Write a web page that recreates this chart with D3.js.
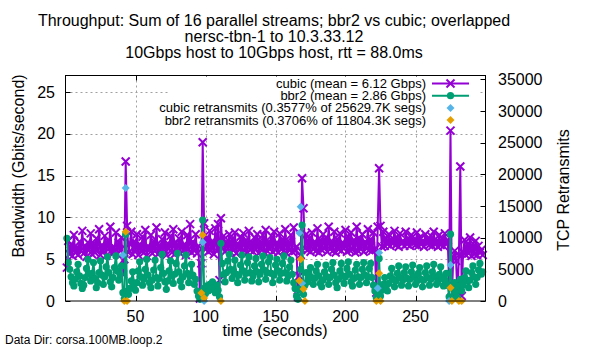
<!DOCTYPE html>
<html>
<head>
<meta charset="utf-8">
<style>
    body { margin: 0; background: #fff; }
    svg { display: block; font-family: 'Liberation Sans', Arial, sans-serif; }
</style>
</head>
<body>
<svg width="600" height="350"></svg>

<script src="https://d3js.org/d3.v7.min.js"></script>
<script>

    // throughput, Gbps, one sample per second starting at t = 1
    let cubicGbps = [
        4.0, 7.2, 5.6, 6.8, 5.4, 7.9, 5.8, 6.4, 5.5, 7.1,
        6.0, 8.4, 5.7, 6.6, 5.3, 7.0, 6.2, 8.1, 5.6, 6.9,
        5.8, 7.5, 6.1, 8.6, 5.5, 6.7, 6.0, 7.8, 5.4, 7.2,
        6.3, 8.9, 5.7, 6.5, 5.9, 8.2, 5.6, 7.0, 6.1, 7.6,
        3.2, 5.0, 16.7, 9.0, 5.8, 6.9, 8.3, 5.6, 7.1, 6.2,
        8.0, 5.5, 6.8, 6.0, 7.7, 5.8, 8.5, 5.4, 6.6, 6.1,
        7.9, 5.7, 7.2, 6.0, 8.8, 5.6, 6.7, 5.9, 7.4, 6.2,
        8.2, 5.5, 6.9, 6.3, 7.8, 5.8, 8.6, 5.6, 7.0, 6.0,
        7.5, 5.7, 8.3, 6.1, 6.8, 5.5, 7.9, 6.2, 9.2, 5.8,
        7.1, 6.0, 8.0, 5.7, 6.6, 0.3, 4.5, 19.0, 9.3, 6.2,
        7.6, 5.9, 8.4, 6.1, 7.2, 5.6, 8.7, 6.0, 9.2, 2.5,
        9.9, 6.4, 7.8, 5.9, 7.1, 6.3, 8.0, 5.8, 7.4, 6.1,
        8.2, 5.7, 6.9, 6.2, 7.7, 5.9, 8.1, 6.0, 7.3, 5.8,
        8.4, 6.1, 7.0, 5.9, 7.6, 6.2, 8.0, 5.7, 7.2, 6.3,
        7.9, 5.8, 8.5, 6.0, 7.1, 6.2, 7.8, 5.9, 8.3, 6.1,
        7.0, 5.8, 8.1, 6.2, 7.4, 6.0, 8.6, 5.7, 7.2, 6.1,
        7.9, 5.9, 8.8, 6.0, 6.5, 0.5, 3.0, 5.5, 14.7, 11.1,
        6.3, 8.0, 6.1, 7.5, 5.9, 8.2, 6.2, 7.1, 6.0, 8.7,
        5.8, 7.3, 6.1, 8.0, 6.3, 7.6, 5.9, 8.9, 6.2, 7.2,
        6.0, 8.3, 5.8, 7.4, 6.2, 8.1, 6.0, 7.0, 6.3, 8.5,
        5.9, 7.7, 6.1, 8.2, 6.2, 7.3, 5.8, 8.9, 6.0, 7.5,
        6.2, 8.0, 5.9, 7.1, 6.3, 8.6, 6.1, 7.4, 6.0, 8.2,
        6.2, 1.0, 8.9, 15.9, 9.0, 6.5, 8.3, 6.6, 7.5, 6.8,
        8.0, 6.6, 7.3, 6.9, 8.4, 6.7, 7.6, 6.5, 8.1, 6.9,
        7.2, 6.6, 8.3, 6.8, 7.5, 6.6, 7.9, 6.9, 7.3, 6.7,
        8.2, 6.6, 7.6, 6.8, 7.1, 6.5, 8.0, 6.9, 7.4, 6.7,
        7.8, 6.6, 8.3, 6.8, 7.2, 6.5, 7.9, 6.7, 7.5, 6.6,
        8.1, 6.8, 7.3, 2.0, 20.4, 0.5, 5.2, 6.0, 4.8, 0.4,
        5.5, 16.1, 0.6, 5.8, 7.3, 5.5, 6.8, 5.7, 7.6, 5.4,
        6.9, 5.6, 7.2, 5.5, 6.6, 5.8, 6.1, 5.5
    ]

    let bbr2Gbps = [
        7.5, 4.6, 3.8, 2.9, 2.2, 1.8, 2.6, 3.5, 4.4, 3.0,
        2.1, 1.5, 1.9, 2.8, 3.9, 5.0, 3.2, 2.4, 3.3, 4.6,
        2.7, 1.6, 2.2, 3.4, 4.8, 3.1, 2.0, 2.9, 4.1, 5.3,
        3.4, 2.3, 1.7, 2.8, 4.0, 5.4, 3.6, 2.5, 3.2, 4.2,
        1.0, 0.3, 8.0, 1.2, 0.8, 1.5, 2.4, 3.5, 2.0, 1.3,
        2.2, 3.6, 4.7, 2.9, 1.9, 2.6, 3.8, 5.0, 3.1, 2.2,
        1.6, 2.5, 3.7, 4.9, 2.8, 1.8, 2.7, 4.0, 5.6, 3.3,
        2.3, 1.4, 2.4, 3.6, 4.8, 3.0, 2.1, 3.2, 4.5, 5.7,
        3.5, 2.4, 1.7, 2.9, 4.2, 5.5, 3.3, 2.2, 3.0, 4.4,
        3.1, 2.0, 2.6, 1.2, 0.6, 0.2, 1.1, 9.7, 1.5, 0.9,
        1.8, 1.2, 2.0, 1.4, 2.3, 1.6, 1.0, 1.9, 1.3, 0.5,
        6.9, 4.5, 3.2, 2.3, 3.4, 4.8, 5.6, 3.8, 2.7, 3.6,
        4.9, 3.2, 2.2, 3.1, 4.3, 5.5, 3.6, 2.5, 3.3, 4.6,
        5.3, 3.4, 2.4, 3.0, 4.2, 5.1, 3.5, 2.3, 3.2, 4.4,
        5.4, 3.7, 2.6, 3.4, 4.7, 5.2, 3.3, 2.2, 3.1, 4.3,
        5.0, 3.6, 2.5, 3.3, 4.5, 5.4, 3.4, 2.4, 3.0, 4.1,
        4.9, 3.2, 2.2, 1.5, 0.6, 0.2, 1.4, 3.8, 9.1, 0.8,
        1.9, 3.4, 2.3, 3.1, 4.0, 2.8, 2.0, 2.7, 3.6, 4.4,
        3.0, 2.1, 1.7, 2.5, 3.5, 4.3, 2.9, 2.0, 2.8, 3.8,
        4.6, 3.1, 2.2, 1.6, 2.6, 3.6, 4.5, 3.0, 2.1, 2.9,
        3.9, 4.7, 3.2, 2.3, 1.8, 2.7, 3.7, 4.4, 2.9, 2.0,
        2.8, 3.8, 4.6, 3.1, 2.2, 2.9, 3.9, 4.5, 2.8, 1.9,
        1.2, 0.4, 0.9, 5.1, 0.6, 1.3, 2.0, 2.8, 1.8, 1.2,
        2.1, 3.0, 3.9, 2.6, 1.7, 2.4, 3.3, 4.2, 2.8, 1.9,
        2.5, 3.4, 4.1, 2.7, 1.8, 2.6, 3.5, 4.3, 2.9, 2.0,
        2.4, 3.3, 4.0, 2.6, 1.7, 2.5, 3.4, 4.2, 2.8, 1.9,
        2.6, 3.5, 4.4, 2.9, 2.0, 2.3, 3.2, 4.1, 2.7, 1.8,
        2.5, 3.3, 1.9, 0.5, 8.0, 0.3, 1.5, 2.2, 1.0, 0.4,
        1.8, 2.6, 1.2, 1.9, 2.8, 3.6, 2.4, 1.6, 2.5, 3.4,
        4.2, 2.9, 2.0, 2.8, 3.7, 4.5, 3.2, 3.5
    ]

    // retransmits (right axis), only the seconds where they show up
    let cubicRetxSec = [41, 43, 98, 99, 167, 168, 169, 223, 224, 274, 275]
    let cubicRetx = [7260, 17840, 9270, 0, 10740, 14890, 2790, 2000, 7630, 0, 5680]

    let bbr2RetxSec = [42, 43, 44, 97, 98, 99, 111, 167, 168, 170, 171, 222, 224, 225, 275, 276, 281, 283]
    let bbr2Retx = [0, 10940, 0, 1260, 10420, 470, 0, 3200, 6590, 1890, 0, 0, 4370, 0, 2100, 0, 0, 0]

    let xTicks = [50, 100, 150, 200, 250]
    let yTicks = [0, 5, 10, 15, 20, 25]
    let y2Ticks = [0, 5000, 10000, 15000, 20000, 25000, 30000, 35000]

    let titleLines = [
        "Throughput: Sum of 16 parallel streams; bbr2 vs cubic; overlapped",
        "nersc-tbn-1 to 10.3.33.12",
        "10Gbps host to 10Gbps host, rtt = 88.0ms"
    ]
    let legendLabels = [
        "cubic (mean = 6.12 Gbps)",
        "bbr2 (mean = 2.86 Gbps)",
        "cubic retransmits (0.3577% of 25629.7K segs)",
        "bbr2 retransmits (0.3706% of 11804.3K segs)"
    ]

    let purple = "#9400d3", green = "#009e73", blue = "#56b4e9", orange = "#e69f00"

    let svg = d3.select("svg")
    let pLeft = 65.5, pRight = 485.5, pTop = 75.5, pBottom = 301

    let x = d3.scaleLinear().domain([0, 300]).range([pLeft, pRight])
    let y = d3.scaleLinear().domain([0, 27]).range([pBottom, pTop])
    let y2 = d3.scaleLinear().domain([0, 35630]).range([pBottom, pTop])

    let cubic = cubicGbps.map((v, i) => ({ t: i + 1, v: v }))
    let bbr2 = bbr2Gbps.map((v, i) => ({ t: i + 1, v: v }))
    let cubicR = cubicRetxSec.map((t, i) => ({ t: t, v: cubicRetx[i] }))
    let bbr2R = bbr2RetxSec.map((t, i) => ({ t: t, v: bbr2Retx[i] }))

    // grid
    svg.selectAll(".vgrid")
        .data(xTicks)
        .join("line")
        .attr("x1", d => Math.round(x(d)) + .5).attr("x2", d => Math.round(x(d)) + .5)
        .attr("y1", pTop).attr("y2", pBottom)
        .style("stroke", "#a0a0a0").style("stroke-dasharray", "2,3")

    svg.selectAll(".hgrid")
        .data(yTicks.filter(d => d > 0))
        .join("line")
        .attr("x1", pLeft).attr("x2", pRight)
        .attr("y1", d => Math.round(y(d)) + .5).attr("y2", d => Math.round(y(d)) + .5)
        .style("stroke", "#a0a0a0").style("stroke-dasharray", "2,3")

    // tick marks, pointing in
    let ticks = svg.append("g").style("stroke", "#000")
    xTicks.forEach(d => {
        let px = Math.round(x(d)) + .5
        ticks.append("line").attr("x1", px).attr("x2", px).attr("y1", pBottom).attr("y2", pBottom - 5)
        ticks.append("line").attr("x1", px).attr("x2", px).attr("y1", pTop).attr("y2", pTop + 5)
    })
    yTicks.forEach(d => {
        let py = Math.round(y(d)) + .5
        ticks.append("line").attr("x1", pLeft).attr("x2", pLeft + 5).attr("y1", py).attr("y2", py)
    })
    y2Ticks.forEach(d => {
        let py = Math.round(y2(d)) + .5
        ticks.append("line").attr("x1", pRight).attr("x2", pRight - 5).attr("y1", py).attr("y2", py)
    })

    // key box (opaque)
    svg.append("rect")
        .attr("x", 170).attr("y", pTop + 1)
        .attr("width", 308).attr("height", 50)
        .style("fill", "#fff")

    // series
    let line = d3.line().x(d => x(d.t)).y(d => y(d.v))

    let cross = (g, cx, cy) => {
        g.append("path")
            .attr("d", `M${cx - 4},${cy - 4}L${cx + 4},${cy + 4}M${cx - 4},${cy + 4}L${cx + 4},${cy - 4}`)
            .style("stroke", purple).style("stroke-width", 2)
    }
    let dot = (g, cx, cy) => {
        g.append("circle").attr("cx", cx).attr("cy", cy).attr("r", 3.6).style("fill", green)
    }
    let diamond = (g, cx, cy, col) => {
        g.append("path")
            .attr("d", `M${cx},${cy - 4}L${cx + 4},${cy}L${cx},${cy + 4}L${cx - 4},${cy}Z`)
            .style("fill", col)
    }

    let gCubic = svg.append("g")
    gCubic.append("path")
        .attr("d", line(cubic))
        .style("fill", "none").style("stroke", purple).style("stroke-width", 2)
    cubic.forEach(d => cross(gCubic, x(d.t), y(d.v)))

    let gBbr2 = svg.append("g")
    gBbr2.append("path")
        .attr("d", line(bbr2))
        .style("fill", "none").style("stroke", green).style("stroke-width", 2)
    bbr2.forEach(d => dot(gBbr2, x(d.t), y(d.v)))

    let gRetx = svg.append("g")
    cubicR.forEach(d => diamond(gRetx, x(d.t), y2(d.v), blue))
    bbr2R.forEach(d => diamond(gRetx, x(d.t), y2(d.v), orange))

    // frame
    svg.append("rect")
        .attr("x", pLeft).attr("y", pTop)
        .attr("width", pRight - pLeft).attr("height", pBottom - pTop)
        .style("fill", "none").style("stroke", "#000")

    // tick labels
    svg.selectAll(".xlab")
        .data(xTicks)
        .join("text")
        .attr("x", d => x(d)).attr("y", 322)
        .attr("text-anchor", "middle")
        .style("font-size", "16px")
        .text(d => d)

    svg.selectAll(".ylab")
        .data(yTicks)
        .join("text")
        .attr("x", 55).attr("y", d => y(d) + 5.5)
        .attr("text-anchor", "end")
        .style("font-size", "16px")
        .text(d => d)

    svg.selectAll(".y2lab")
        .data(y2Ticks)
        .join("text")
        .attr("x", 498).attr("y", d => y2(d) + 5.5)
        .style("font-size", "16px")
        .text(d => d)

    // titles and axis labels
    svg.selectAll(".title")
        .data(titleLines)
        .join("text")
        .attr("x", 274).attr("y", (d, i) => 26 + i * 16)
        .attr("text-anchor", "middle")
        .style("font-size", "16px")
        .text(d => d)

    svg.append("text")
        .attr("transform", "translate(24,166) rotate(-90)")
        .attr("text-anchor", "middle")
        .style("font-size", "16px")
        .text("Bandwidth (Gbits/second)")

    svg.append("text")
        .attr("transform", "translate(569,190) rotate(-90)")
        .attr("text-anchor", "middle")
        .style("font-size", "16px")
        .text("TCP Retransmits")

    svg.append("text")
        .attr("x", 275).attr("y", 336)
        .attr("text-anchor", "middle")
        .style("font-size", "16px")
        .text("time (seconds)")

    svg.append("text")
        .attr("x", 5).attr("y", 344)
        .style("font-size", "12px")
        .text("Data Dir: corsa.100MB.loop.2")

    // key
    let key = svg.append("g")
    legendLabels.forEach((lab, i) => {
        let ky = 83.5 + i * 12.2
        key.append("text")
            .attr("x", 426).attr("y", ky + 4.5)
            .attr("text-anchor", "end")
            .style("font-size", "13px")
            .text(lab)
    })
    key.append("line").attr("x1", 432).attr("x2", 469).attr("y1", 83.5).attr("y2", 83.5)
        .style("stroke", purple).style("stroke-width", 2)
    cross(key, 450.5, 83.5)
    key.append("line").attr("x1", 432).attr("x2", 469).attr("y1", 95.7).attr("y2", 95.7)
        .style("stroke", green).style("stroke-width", 2)
    dot(key, 450.5, 95.7)
    diamond(key, 450.5, 107.9, blue)
    diamond(key, 450.5, 120.1, orange)

</script>
</body>
</html>
